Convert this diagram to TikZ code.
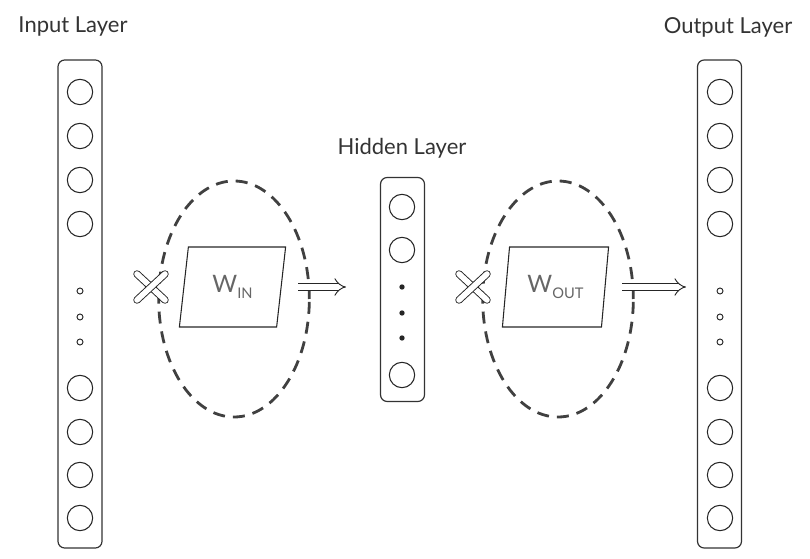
\documentclass[tikz,border=0pt]{standalone}
\usepackage{fontspec}
\setmainfont{Lato}
\usetikzlibrary{arrows.meta,positioning,shapes.geometric}

\tikzset{
  layer/.style={draw=black!80, line width=0.9pt, rounded corners=5pt, minimum width=33pt, inner sep=0pt},
  neuron/.style={circle, draw=black!85, line width=0.8pt, minimum size=19pt, inner sep=0pt},
  gap/.style={circle, draw=black!85, line width=0.7pt, minimum size=4.5pt, inner sep=0pt},
  gapdot/.style={circle, fill=black!85, minimum size=4pt, inner sep=0pt},
  ring/.style={ellipse, draw=black!75, line width=2.1pt, dash pattern=on 9pt off 6pt, minimum width=113pt, minimum height=177pt, inner sep=0pt},
  weights/.style={trapezium, trapezium left angle=81, trapezium right angle=99, trapezium stretches=true, draw=black!85, line width=0.8pt, minimum width=80pt, minimum height=60pt, text=black!60, font=\fontsize{18}{18}\selectfont},
  title/.style={text=black!80, font=\fontsize{16.5}{16.5}\selectfont},
  cross/.style={draw=black!85, line width=0.7pt, double=white, double distance=4.2pt, line cap=round},
  fat/.style={draw=black!85, line width=0.7pt, double=white, double distance=4pt, -{Implies[length=6pt]}}
}

\begin{document}
\begin{tikzpicture}[x=0.75pt,y=-0.75pt]
\useasboundingbox (0,0) rectangle (810,559);

%LAYERS
\node[layer, minimum height=366pt] (inp) at (80,304) {};
\node[layer, minimum height=168pt] (hid) at (402.5,289.5) {};
\node[layer, minimum height=366pt] (out) at (719.5,304) {};

%TITLES
\node[title] (tin) at (73,27) {Input Layer};
\node[title] (thid) at (402,148) {Hidden Layer};
\node[title] (tout) at (728,27) {Output Layer};

%NEURONS
\foreach \y in {92,136,180,224,388,432,475,518} {
  \node[neuron] (in-\y) at (80,\y) {};
  \node[neuron] (out-\y) at (720,\y) {};
}
\foreach \y in {291,317,342} {
  \node[gap] (ingap-\y) at (80,\y) {};
  \node[gap] (outgap-\y) at (720,\y) {};
}
\foreach \y in {207,250,375}
  \node[neuron] (hid-\y) at (402,\y) {};
\foreach \y in {287,313,338}
  \node[gapdot] (hidgap-\y) at (402,\y) {};

%WEIGHTS
\node[ring] (rin) at (234,299) {};
\node[ring] (rout) at (558,299) {};
\node[weights] (win) at (232.5,287) {W\raisebox{-0.45ex}{\fontsize{11}{11}\selectfont IN}};
\node[weights] (wout) at (555.5,287) {W\raisebox{-0.45ex}{\fontsize{11}{11}\selectfont OUT}};

%CROSSES
\coordinate (xin) at (151,287);
\coordinate (xout) at (473,287);
\foreach \c in {xin,xout} {
  \draw[cross] ([shift={(-14,-13)}]\c) -- ([shift={(14,13)}]\c);
  \draw[cross] ([shift={(-14,13)}]\c) -- ([shift={(14,-13)}]\c);
}

%ARROWS
\coordinate (ain) at (298,287);
\coordinate (bin) at (346,287);
\coordinate (aout) at (622,287);
\coordinate (bout) at (686,287);
\draw[fat] (ain) -- (bin);
\draw[fat] (aout) -- (bout);
\end{tikzpicture}
\end{document}
